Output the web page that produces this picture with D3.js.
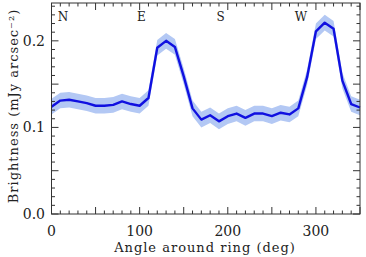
<!doctype html>
<html>
<head>
<meta charset="utf-8"/>
<script src="https://d3js.org/d3.v7.min.js"></script>
<style>
body{margin:0;background:#fff;}
text{font-family:"DejaVu Serif","Liberation Serif",serif;fill:#222;}
</style>
</head>
<body>
<script>
// angle around ring (deg) and brightness (mJy arcsec^-2)
var angles = [0,10,20,30,40,50,60,70,80,90,100,110,120,130,140,150,160,170,
              180,190,200,210,220,230,240,250,260,270,280,290,300,310,320,330,340,350];
var brightness = [0.124,0.131,0.132,0.130,0.128,0.125,0.125,0.126,0.130,0.127,0.125,0.134,
                  0.192,0.200,0.193,0.159,0.122,0.109,0.114,0.107,0.113,0.116,0.111,0.116,
                  0.116,0.113,0.117,0.115,0.122,0.158,0.211,0.221,0.214,0.154,0.127,0.123];
var errors = [0.009,0.009,0.009,0.009,0.009,0.009,0.009,0.009,0.009,0.009,0.009,0.009,
              0.009,0.009,0.009,0.009,0.009,0.009,0.009,0.009,0.009,0.009,0.009,0.009,
              0.009,0.009,0.009,0.009,0.009,0.009,0.009,0.009,0.009,0.009,0.009,0.009];
var dirLabels = ["N","E","S","W"];
var dirAngles = [13,102,192,283];
var xTicks = [0,100,200,300];
var yTicks = [0.0,0.1,0.2];

var W = 366, H = 257;
var padL = 51.5, padR = 360, padT = 3, padB = 214;

var svg = d3.select("body").append("svg")
    .attr("width", W)
    .attr("height", H);

var x = d3.scaleLinear().domain([0,350]).range([padL,padR]);
var y = d3.scaleLinear().domain([0,0.2437]).range([padB,padT]);

var pts = angles.map(function(a,i){ return {a:a, v:brightness[i], e:errors[i]}; });

// error band
var area = d3.area()
    .x(function(d){ return x(d.a); })
    .y0(function(d){ return y(d.v - d.e); })
    .y1(function(d){ return y(d.v + d.e); });

svg.append("path")
    .datum(pts)
    .attr("d", area)
    .attr("fill", "#b3c8f4");

var line = d3.line()
    .x(function(d){ return x(d.a); })
    .y(function(d){ return y(d.v); });

svg.append("path")
    .datum(pts)
    .attr("d", line)
    .attr("fill", "none")
    .attr("stroke", "#1010e0")
    .attr("stroke-width", 2.4)
    .attr("stroke-linejoin", "round");

// axes: ticks inward on all four sides
var xMinor = d3.range(0, 351, 10);
var yMinor = d3.range(0, 0.2431, 0.01);
function tlen(i){ return (i % 5 == 0) ? 7 : 3.5; }

var g = svg.append("g").attr("stroke", "#333").attr("stroke-width", 1);
xMinor.forEach(function(v,i){
  var px = x(v);
  g.append("line").attr("x1",px).attr("x2",px).attr("y1",padB).attr("y2",padB-tlen(i));
  g.append("line").attr("x1",px).attr("x2",px).attr("y1",padT).attr("y2",padT+tlen(i));
});
yMinor.forEach(function(v,i){
  var py = y(v);
  g.append("line").attr("x1",padL).attr("x2",padL+tlen(i)).attr("y1",py).attr("y2",py);
  g.append("line").attr("x1",padR).attr("x2",padR-tlen(i)).attr("y1",py).attr("y2",py);
});
g.append("rect")
    .attr("x", padL).attr("y", padT)
    .attr("width", padR-padL).attr("height", padB-padT)
    .attr("fill", "none");

svg.selectAll(".xl")
    .data(xTicks)
    .enter()
    .append("text")
    .attr("x", function(d){ return x(d); })
    .attr("y", 236)
    .attr("text-anchor", "middle")
    .attr("font-size", 14)
    .text(function(d){ return d; });

svg.selectAll(".yl")
    .data(yTicks)
    .enter()
    .append("text")
    .attr("x", 45)
    .attr("y", function(d){ return y(d) + 5; })
    .attr("text-anchor", "end")
    .attr("font-size", 14)
    .text(function(d){ return d.toFixed(1); });

svg.selectAll(".dir")
    .data(dirLabels)
    .enter()
    .append("text")
    .attr("x", function(d,i){ return x(dirAngles[i]); })
    .attr("y", 21)
    .attr("text-anchor", "middle")
    .attr("font-size", 12)
    .text(function(d){ return d; });

svg.append("text")
    .attr("x", 205)
    .attr("y", 252)
    .attr("text-anchor", "middle")
    .attr("font-size", 13)
    .attr("letter-spacing", 1.0)
    .text("Angle around ring (deg)");

svg.append("text")
    .attr("transform", "translate(18,106) rotate(-90)")
    .attr("text-anchor", "middle")
    .attr("font-size", 13)
    .attr("letter-spacing", 1.0)
    .text("Brightness (mJy arcsec⁻²)");
</script>
</body>
</html>
